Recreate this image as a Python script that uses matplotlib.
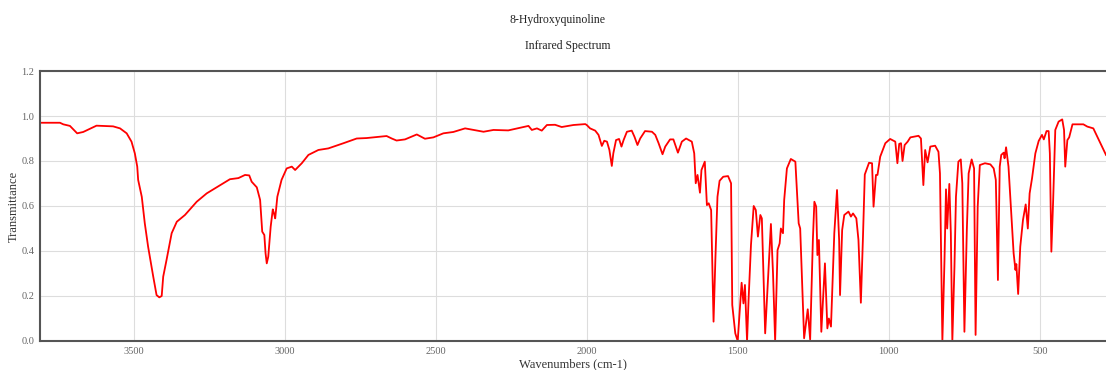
import matplotlib
matplotlib.use("Agg")
import matplotlib.pyplot as plt

# spectrum (wavenumber in cm-1, transmittance)
wavenumbers = [
    3811, 3745, 3734, 3712, 3688, 3668, 3624, 3569, 3546, 3524, 3508, 3497,
    3489, 3486, 3474, 3464, 3453, 3436, 3425, 3416, 3408, 3403, 3392, 3375,
    3358, 3331, 3292, 3259, 3226, 3204, 3182, 3154, 3132, 3118, 3110, 3093,
    3082, 3075, 3068, 3064, 3060, 3055, 3047, 3040, 3036, 3032, 3025, 3011,
    2994, 2977, 2966, 2944, 2922, 2889, 2856, 2806, 2762, 2729, 2663, 2646,
    2630, 2602, 2563, 2536, 2508, 2475, 2442, 2403, 2342, 2309, 2260, 2193,
    2182, 2165, 2149, 2132, 2105, 2083, 2044, 2005, 2000, 1989, 1972, 1961,
    1950, 1942, 1933, 1925, 1917, 1912, 1903, 1893, 1885, 1878, 1867, 1851,
    1842, 1832, 1823, 1807, 1784, 1773, 1762, 1749, 1740, 1724, 1713, 1698,
    1685, 1671, 1652, 1644, 1639, 1633, 1625, 1620, 1609, 1602, 1596, 1588,
    1580, 1574, 1567, 1560, 1548, 1532, 1522, 1518, 1508, 1500, 1494, 1487,
    1481, 1476, 1469, 1464, 1456, 1447, 1440, 1433, 1425, 1420, 1409, 1398,
    1390, 1383, 1376, 1368, 1361, 1357, 1350, 1346, 1337, 1324, 1309, 1298,
    1293, 1280, 1268, 1260, 1251, 1246, 1240, 1236, 1231, 1223, 1211, 1203,
    1198, 1191, 1180, 1171, 1164, 1161, 1154, 1147, 1133, 1125, 1118, 1107,
    1100, 1092, 1085, 1079, 1065, 1055, 1050, 1042, 1037, 1028, 1011, 995,
    978, 971, 965, 959, 954, 947, 937, 928, 901, 893, 885, 879,
    871, 862, 846, 835, 830, 822, 815, 810, 806, 799, 794, 789,
    782, 777, 769, 761, 756, 749, 741, 735, 725, 717, 712, 705,
    698, 681, 663, 652, 645, 638, 632, 627, 619, 616, 611, 603,
    594, 586, 580, 577, 571, 564, 555, 546, 539, 533, 525, 514,
    503, 492, 486, 477, 470, 466, 461, 455, 448, 437, 425, 419,
    415, 408, 402, 391, 355, 342, 322, 306, 280,
]
transmittance = [
    0.970, 0.970, 0.963, 0.956, 0.923, 0.929, 0.957, 0.954, 0.945, 0.923, 0.886, 0.834,
    0.775, 0.716, 0.641, 0.523, 0.419, 0.286, 0.204, 0.194, 0.200, 0.286, 0.360, 0.479,
    0.530, 0.560, 0.619, 0.656, 0.683, 0.701, 0.719, 0.724, 0.738, 0.736, 0.708, 0.683,
    0.627, 0.486, 0.471, 0.390, 0.345, 0.375, 0.508, 0.585, 0.567, 0.545, 0.641, 0.716,
    0.767, 0.775, 0.760, 0.790, 0.827, 0.849, 0.856, 0.879, 0.900, 0.902, 0.911, 0.900,
    0.891, 0.896, 0.918, 0.899, 0.905, 0.923, 0.929, 0.945, 0.930, 0.938, 0.936, 0.956,
    0.938, 0.945, 0.935, 0.960, 0.961, 0.951, 0.960, 0.964, 0.960, 0.945, 0.935, 0.916,
    0.867, 0.890, 0.886, 0.849, 0.778, 0.834, 0.893, 0.898, 0.864, 0.893, 0.930, 0.935,
    0.908, 0.871, 0.900, 0.933, 0.930, 0.916, 0.879, 0.830, 0.864, 0.896, 0.896, 0.837,
    0.886, 0.900, 0.886, 0.834, 0.701, 0.738, 0.659, 0.760, 0.797, 0.604, 0.612, 0.582,
    0.086, 0.360, 0.641, 0.712, 0.730, 0.733, 0.701, 0.160, 0.034, 0.000, 0.123, 0.259,
    0.167, 0.249, 0.000, 0.182, 0.427, 0.600, 0.582, 0.464, 0.560, 0.545, 0.034, 0.316,
    0.520, 0.300, 0.000, 0.404, 0.434, 0.500, 0.479, 0.627, 0.767, 0.809, 0.797, 0.523,
    0.500, 0.012, 0.141, 0.007, 0.449, 0.619, 0.597, 0.382, 0.449, 0.041, 0.345, 0.056,
    0.100, 0.064, 0.479, 0.671, 0.449, 0.204, 0.493, 0.560, 0.575, 0.553, 0.567, 0.545,
    0.449, 0.170, 0.464, 0.740, 0.792, 0.790, 0.597, 0.738, 0.738, 0.819, 0.879, 0.898,
    0.886, 0.790, 0.876, 0.879, 0.800, 0.871, 0.886, 0.905, 0.912, 0.900, 0.693, 0.849,
    0.794, 0.864, 0.868, 0.841, 0.745, 0.000, 0.360, 0.674, 0.500, 0.698, 0.479, 0.000,
    0.330, 0.641, 0.797, 0.807, 0.701, 0.041, 0.493, 0.745, 0.807, 0.767, 0.027, 0.597,
    0.782, 0.790, 0.785, 0.767, 0.716, 0.271, 0.775, 0.827, 0.837, 0.812, 0.861, 0.775,
    0.567, 0.390, 0.316, 0.342, 0.209, 0.419, 0.538, 0.607, 0.500, 0.656, 0.723, 0.834,
    0.889, 0.916, 0.896, 0.933, 0.933, 0.834, 0.397, 0.627, 0.938, 0.975, 0.985, 0.938,
    0.775, 0.893, 0.905, 0.963, 0.963, 0.953, 0.945, 0.900, 0.827,
]

x_ticks = [3500, 3000, 2500, 2000, 1500, 1000, 500]
y_ticks = [0.0, 0.2, 0.4, 0.6, 0.8, 1.0, 1.2]

plt.rcParams['font.family'] = ['Liberation Serif', 'DejaVu Serif']

fig = plt.figure(figsize=(11.06, 3.70), dpi=100)
ax = fig.add_axes([0.0362, 0.0784, 0.9638, 0.7297])

ax.plot(wavenumbers, transmittance, color='#ff0000', linewidth=1.3)

ax.set_xlim(3811, 280)
ax.set_ylim(0, 1.2)
ax.set_xticks(x_ticks)
ax.set_yticks(y_ticks)
ax.set_xticklabels([str(t) for t in x_ticks])
ax.set_yticklabels(["%.1f" % t for t in y_ticks])
ax.tick_params(length=0, labelsize=7.5, colors='#666666', pad=4)
ax.grid(True, color='#dddddd', linewidth=0.8)
ax.set_axisbelow(True)

for side in ['left', 'bottom', 'top']:
    ax.spines[side].set_color('#555555')
    ax.spines[side].set_linewidth(1.5)
ax.spines['right'].set_visible(False)

ax.set_xlabel("Wavenumbers (cm-1)", fontsize=9, color='#333333', labelpad=2)
ax.set_ylabel("Transmittance", fontsize=9, color='#333333', labelpad=1)

fig.text(0.504, 0.945, "8-Hydroxyquinoline", ha='center', va='center', fontsize=8.5, color='#222222')
fig.text(0.513, 0.875, "Infrared Spectrum", ha='center', va='center', fontsize=8.5, color='#222222')

fig.savefig("out.png", dpi=100)
